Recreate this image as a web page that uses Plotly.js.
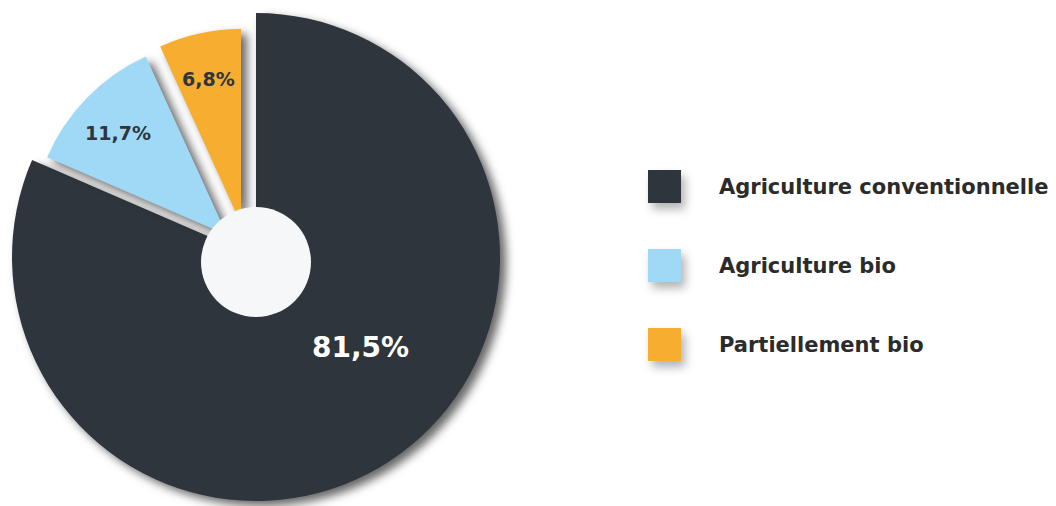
<!DOCTYPE html>
<html><head><meta charset="utf-8">
<script src="https://cdn.plot.ly/plotly-3.0.1.min.js"></script>
<style>
html,body{margin:0;padding:0;background:#fff;}
#chart{width:1056px;height:506px;}
.pielayer path.surface{filter:drop-shadow(6px 5px 5px rgba(0,0,0,0.6));}
.layer-below .shapelayer path{filter:drop-shadow(4px 6px 5px rgba(0,0,0,0.3));}
</style></head><body><div id="chart"></div>
<script>
// ---- data ----
const categories = ['Agriculture conventionnelle', 'Agriculture bio', 'Partiellement bio'];
const shares = [81.5, 11.7, 6.8];
const sliceColors = ['#2e353d', '#a0d9f5', '#f7ae30'];

// ---- styling / layout ----
const W = 1056, H = 506;
const FONT = 'DejaVu Sans, Verdana, sans-serif';
const labelColors = ['#ffffff', '#2e353d', '#2e353d'];
const labelSizes = [28, 19, 19];
// per-slice pie placement in pixels (exploded design)
const geom = [{cx: 256, cy: 257, r: 244}, {cx: 227, cy: 235, r: 196}, {cx: 241, cy: 224, r: 195}];
// label placement (pixels)
const labelPos = [{x: 360, y: 347}, {x: 118, y: 133}, {x: 208.5, y: 79.5}];
const fmt = v => v.toFixed(1).replace('.', ',') + '%';

const traces = categories.map((c, i) => {
  const g = geom[i];
  return {
    type: 'pie',
    values: shares,
    labels: categories,
    sort: false,
    direction: 'clockwise',
    rotation: 0,
    hole: 0,
    domain: {x: [(g.cx - g.r) / W, (g.cx + g.r) / W], y: [1 - (g.cy + g.r) / H, 1 - (g.cy - g.r) / H]},
    marker: {colors: sliceColors.map((col, j) => j === i ? col : 'rgba(0,0,0,0)'), line: {width: 0}},
    textinfo: 'none',
    showlegend: false,
    hoverinfo: 'skip'
  };
});

// centre disc + custom legend + value labels
const shapes = [{
  type: 'circle', xref: 'paper', yref: 'paper', layer: 'above',
  x0: 201 / W, x1: 311 / W, y0: 1 - 317 / H, y1: 1 - 207 / H,
  fillcolor: '#f5f7f9', line: {width: 0}
}];
const annotations = [];
categories.forEach((c, i) => {
  const yc = 186.5 + i * 79;
  shapes.push({
    type: 'rect', xref: 'paper', yref: 'paper', layer: 'below',
    x0: 648 / W, x1: 681 / W, y0: 1 - (yc + 16.5) / H, y1: 1 - (yc - 16.5) / H,
    fillcolor: sliceColors[i], line: {width: 0}
  });
  annotations.push({
    xref: 'paper', yref: 'paper', x: 717 / W, y: 1 - yc / H,
    xanchor: 'left', yanchor: 'middle', showarrow: false,
    text: '<b>' + c + '</b>',
    font: {family: FONT, size: 21, color: '#2b2b2b'}
  });
  annotations.push({
    xref: 'paper', yref: 'paper', x: labelPos[i].x / W, y: 1 - labelPos[i].y / H,
    xanchor: 'center', yanchor: 'middle', showarrow: false,
    text: '<b>' + fmt(shares[i]) + '</b>',
    font: {family: FONT, size: labelSizes[i], color: labelColors[i]}
  });
});

const layout = {
  width: W, height: H,
  margin: {l: 0, r: 0, t: 0, b: 0},
  paper_bgcolor: '#ffffff',
  showlegend: false,
  shapes: shapes,
  annotations: annotations
};

Plotly.newPlot('chart', traces, layout, {displayModeBar: false, staticPlot: true});
</script></body></html>
